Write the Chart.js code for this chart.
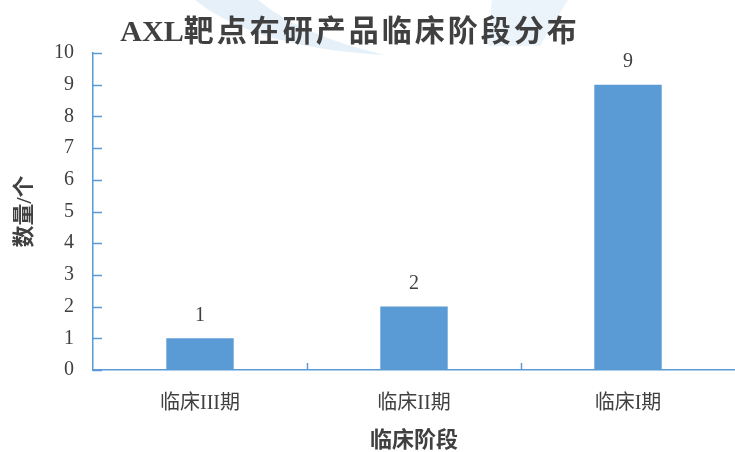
<!DOCTYPE html>
<html>
<head>
<meta charset="utf-8">
<script src="https://cdn.jsdelivr.net/npm/chart.js@4.4.0/dist/chart.umd.min.js"></script>
<style>
  html, body { margin: 0; padding: 0; background: #fff; }
  #wrap { width: 735px; height: 452px; }
</style>
</head>
<body>
<div id="wrap"><canvas id="myChart"></canvas></div>
<script>
var stages = ["临床III期", "临床II期", "临床I期"];
var counts = [1, 2, 9];
var yTicks = [0, 1, 2, 3, 4, 5, 6, 7, 8, 9, 10];
var titleLatin = "AXL";
var titleCjk = "靶点在研产品临床阶段分布";

var serif = "'Liberation Serif', 'Noto Sans CJK SC', serif";
var blue = '#5b9bd5';
var textColor = '#404040';

// faint logo swoosh behind the title
var backdrop = {
  id: 'backdrop',
  beforeDraw: function(chart) {
    var ctx = chart.ctx;
    ctx.save();
    ctx.fillStyle = 'rgba(200, 222, 242, 0.45)';
    ctx.beginPath();
    ctx.moveTo(195, 0);
    ctx.quadraticCurveTo(255, 48, 385, 55);
    ctx.quadraticCurveTo(300, 35, 258, 0);
    ctx.closePath();
    ctx.fill();
    ctx.fillStyle = 'rgba(205, 225, 244, 0.4)';
    ctx.beginPath();
    ctx.moveTo(492, 0);
    ctx.lineTo(568, 0);
    ctx.quadraticCurveTo(552, 25, 540, 46);
    ctx.lineTo(488, 46);
    ctx.closePath();
    ctx.fill();
    ctx.restore();
  }
};

// title, tick marks pointing into the plot, value labels over the bars
var decorations = {
  id: 'decorations',
  afterDraw: function(chart) {
    var ctx = chart.ctx;
    var x = chart.scales.x, y = chart.scales.y;
    ctx.save();
    ctx.fillStyle = textColor;
    ctx.font = 'bold 30px ' + serif;
    ctx.textAlign = 'left';
    ctx.textBaseline = 'middle';
    var wLatin = ctx.measureText(titleLatin).width;
    ctx.letterSpacing = '3px';
    var wCjk = ctx.measureText(titleCjk).width;
    var tx = 350 - (wLatin + wCjk) / 2;
    ctx.letterSpacing = '0px';
    ctx.fillText(titleLatin, tx, 33);
    ctx.letterSpacing = '3px';
    ctx.fillText(titleCjk, tx + wLatin, 33);
    ctx.letterSpacing = '0px';

    ctx.strokeStyle = blue;
    ctx.lineWidth = 1.5;
    yTicks.forEach(function(v) {
      var py = Math.round(y.getPixelForValue(v)) + 0.5;
      ctx.beginPath();
      ctx.moveTo(y.right, py);
      ctx.lineTo(y.right + 9, py);
      ctx.stroke();
    });
    for (var i = 1; i < stages.length; i++) {
      var px = Math.round((x.getPixelForValue(i - 1) + x.getPixelForValue(i)) / 2) + 0.5;
      ctx.beginPath();
      ctx.moveTo(px, x.top);
      ctx.lineTo(px, x.top - 7);
      ctx.stroke();
    }

    ctx.font = '20px ' + serif;
    ctx.textAlign = 'center';
    var meta = chart.getDatasetMeta(0);
    meta.data.forEach(function(bar, i) {
      ctx.fillText(String(counts[i]), bar.x, bar.y - 23);
    });
    ctx.restore();
  }
};

var ctx = document.getElementById("myChart").getContext("2d");
var myChart = new Chart(ctx, {
  type: "bar",
  data: {
    labels: stages,
    datasets: [{
      data: counts,
      backgroundColor: blue,
      barPercentage: 0.315,
      categoryPercentage: 1
    }]
  },
  options: {
    responsive: true,
    maintainAspectRatio: false,
    animation: false,
    layout: { padding: { left: 0, right: 0, top: 53, bottom: 0 } },
    scales: {
      x: {
        grid: { display: true, drawOnChartArea: false, drawTicks: false },
        border: { display: true, color: blue, width: 1.5 },
        ticks: { color: textColor, padding: 22, font: { size: 20, family: serif } },
        title: {
          display: true, text: "临床阶段", color: textColor,
          font: { size: 22, weight: 'bold', family: serif, lineHeight: 1 },
          padding: { top: 0, bottom: 0 }
        },
        afterFit: function(scale) { scale.height = 82; }
      },
      y: {
        min: 0, max: 10,
        afterBuildTicks: function(scale) {
          scale.ticks = yTicks.map(function(v) { return { value: v }; });
        },
        grid: { display: true, drawOnChartArea: false, drawTicks: false },
        border: { display: true, color: blue, width: 1.5 },
        ticks: { color: textColor, padding: 19, font: { size: 20, family: serif } },
        title: {
          display: true, text: "数量/个", color: textColor,
          font: { size: 22, weight: 'bold', family: serif, lineHeight: 1.2 },
          padding: { top: 12, bottom: 0 }
        },
        afterFit: function(scale) { scale.width = 93; }
      }
    },
    plugins: {
      legend: { display: false },
      tooltip: { enabled: false },
      title: { display: false }
    }
  },
  plugins: [backdrop, decorations]
});
</script>
</body>
</html>
